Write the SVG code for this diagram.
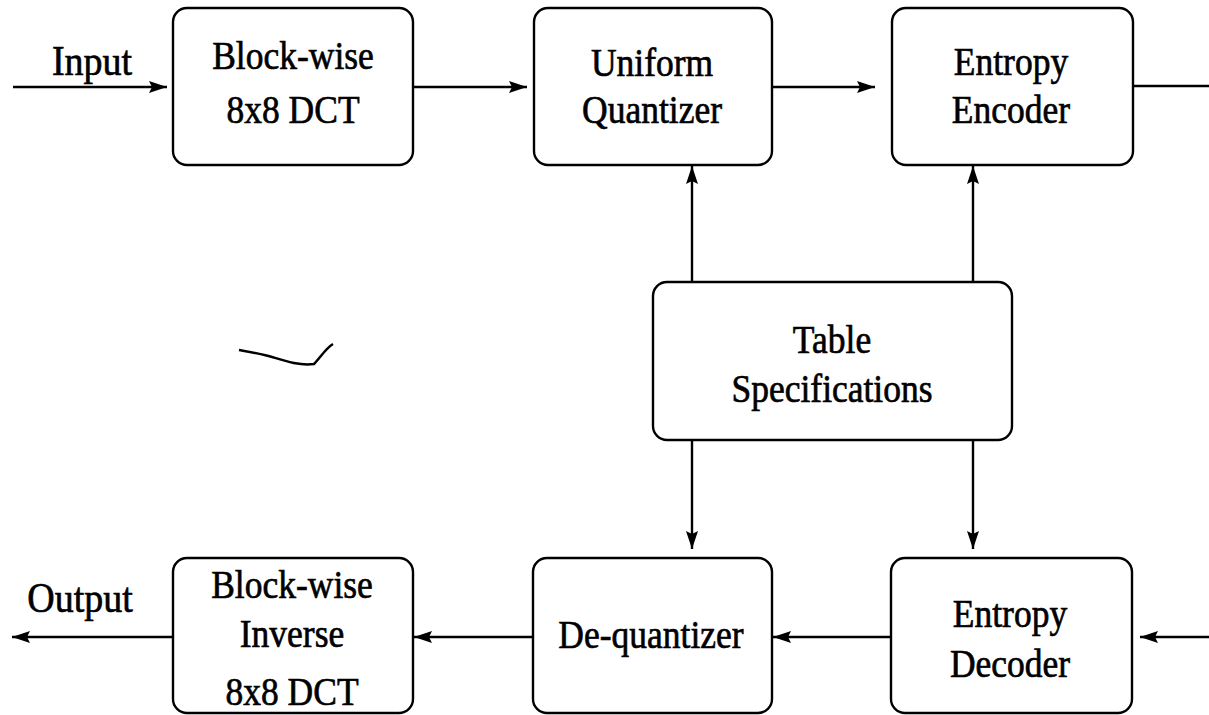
<svg xmlns="http://www.w3.org/2000/svg" width="1209" height="715" viewBox="0 0 1209 715">
<style>
  .box { fill: #fff; stroke: #000; stroke-width: 2.4; }
  .t { font-family: "Liberation Serif", "Times New Roman", serif; font-size: 35.5px; fill: #000; stroke: #000; stroke-width: 0.6; text-anchor: middle; }
  .lbl { font-family: "Liberation Serif", "Times New Roman", serif; font-size: 38px; fill: #000; stroke: #000; stroke-width: 0.6; text-anchor: middle; }
  .c { stroke: #000; stroke-width: 2.4; fill: none; }
</style>
<defs>
  <marker id="ah" markerUnits="userSpaceOnUse" markerWidth="20" markerHeight="14" refX="18" refY="6" orient="auto">
    <path d="M0,0 L18,6 L0,12 L3,6 Z" fill="#000"/>
  </marker>
</defs>
<rect width="1209" height="715" fill="#fff"/>

<g id="connectors">
  <line class="c" x1="13" y1="87" x2="167" y2="87" marker-end="url(#ah)"/>
  <line class="c" x1="413" y1="87" x2="527" y2="87" marker-end="url(#ah)"/>
  <line class="c" x1="772" y1="87" x2="875" y2="87" marker-end="url(#ah)"/>
  <line class="c" x1="1133" y1="86" x2="1209" y2="86"/>
  <line class="c" x1="692" y1="282" x2="692" y2="166" marker-end="url(#ah)"/>
  <line class="c" x1="973" y1="282" x2="973" y2="166" marker-end="url(#ah)"/>
  <line class="c" x1="692" y1="440" x2="692" y2="549" marker-end="url(#ah)"/>
  <line class="c" x1="973" y1="440" x2="973" y2="549" marker-end="url(#ah)"/>
  <line class="c" x1="1209" y1="637" x2="1140" y2="637" marker-end="url(#ah)"/>
  <line class="c" x1="891" y1="637" x2="773" y2="637" marker-end="url(#ah)"/>
  <line class="c" x1="533" y1="637" x2="414" y2="637" marker-end="url(#ah)"/>
  <line class="c" x1="173" y1="637" x2="12" y2="637" marker-end="url(#ah)"/>
</g>

<g id="label-input">
  <text class="lbl" transform="translate(92,75) scale(1,1.1)">Input</text>
</g>
<g id="label-output">
  <text class="lbl" transform="translate(80,612) scale(1,1.1)">Output</text>
</g>

<g id="dct">
  <rect class="box" x="173" y="8" width="240" height="157" rx="14"/>
  <text class="t" transform="translate(293,69) scale(1,1.12)">Block-wise</text>
  <text class="t" transform="translate(293,123) scale(1,1.12)">8x8 DCT</text>
</g>

<g id="quantizer">
  <rect class="box" x="534" y="8" width="238" height="157" rx="14"/>
  <text class="t" transform="translate(652,76) scale(1,1.12)">Uniform</text>
  <text class="t" transform="translate(652,123) scale(1,1.12)">Quantizer</text>
</g>

<g id="encoder">
  <rect class="box" x="892" y="8" width="241" height="157" rx="14"/>
  <text class="t" transform="translate(1011,75) scale(1,1.12)">Entropy</text>
  <text class="t" transform="translate(1011,123) scale(1,1.12)">Encoder</text>
</g>

<g id="table">
  <rect class="box" x="653" y="282" width="359" height="158" rx="14"/>
  <text class="t" transform="translate(832,353) scale(1,1.12)">Table</text>
  <text class="t" transform="translate(832,402) scale(1,1.12)">Specifications</text>
</g>

<g id="dequantizer">
  <rect class="box" x="533" y="558" width="239" height="155" rx="14"/>
  <text class="t" transform="translate(651,648) scale(1,1.12)">De-quantizer</text>
</g>

<g id="decoder">
  <rect class="box" x="891" y="558" width="241" height="155" rx="14"/>
  <text class="t" transform="translate(1010,627) scale(1,1.12)">Entropy</text>
  <text class="t" transform="translate(1010,677) scale(1,1.12)">Decoder</text>
</g>

<g id="idct">
  <rect class="box" x="173" y="558" width="240" height="155" rx="14"/>
  <text class="t" transform="translate(292,598) scale(1,1.12)">Block-wise</text>
  <text class="t" transform="translate(292,647) scale(1,1.12)">Inverse</text>
  <text class="t" transform="translate(292,705) scale(1,1.12)">8x8 DCT</text>
</g>

<path d="M239,350 C250,352 262,354 272,357 C285,361 300,366 314,364 C320,358 326,348 333,344" fill="none" stroke="#000" stroke-width="2.5"/>
</svg>
